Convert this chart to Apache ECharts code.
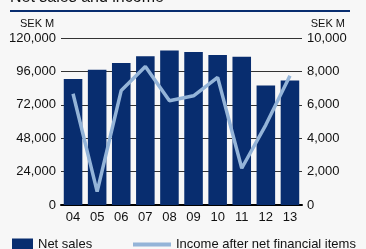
<!DOCTYPE html>
<html>
<head>
<meta charset="utf-8">
<script src="https://cdn.jsdelivr.net/npm/echarts@6/dist/echarts.min.js"></script>
<style>
  html, body { margin: 0; padding: 0; background: #f7f7f7; }
  #chart { width: 366px; height: 249px; }
</style>
</head>
<body>
<div id="chart"></div>
<script>
// years on the x axis
const years = ['04', '05', '06', '07', '08', '09', '10', '11', '12', '13']
// SEK M, left axis
const netSales = [90500, 97200, 102000, 106800, 111100, 109900, 107800, 106600, 85900, 89500]
// SEK M, right axis
const incomeAfterFin = [6660, 800, 6860, 8300, 6240, 6540, 7640, 2200, 4800, 7740]

const darkBlue = '#082d6f'
const lightBlue = '#94b4d8'
const font = 'Liberation Sans, Arial, sans-serif'

var chart = echarts.init(document.getElementById('chart'))

chart.setOption({
  backgroundColor: '#f7f7f7',
  animation: false,
  textStyle: { fontFamily: font },
  graphic: [
    { type: 'text', left: 10, top: -10, style: { text: 'Net sales and income', font: '16px ' + font, fill: '#111' } },
    { type: 'rect', shape: { x: 10, y: 10, width: 340, height: 2 }, style: { fill: darkBlue } },
    { type: 'text', left: 20, top: 18, style: { text: 'SEK M', font: '11px ' + font, fill: '#111' } },
    { type: 'text', right: 21, top: 18, style: { text: 'SEK M', font: '11px ' + font, fill: '#111' } }
  ],
  grid: { left: 61, right: 64, top: 38, bottom: 44 },
  legend: [
    {
      data: ['Net sales'], left: 12, top: 238, padding: 0, itemWidth: 21, itemHeight: 12, itemGap: 4,
      icon: 'rect', textStyle: { fontSize: 13, color: '#111', fontFamily: font }
    },
    {
      data: ['Income after net financial items'], left: 133, top: 238, padding: 0, itemWidth: 38, itemHeight: 4,
      icon: 'rect', textStyle: { fontSize: 13, color: '#111', fontFamily: font }
    }
  ],
  xAxis: {
    type: 'category',
    data: years,
    axisLine: { lineStyle: { color: '#000', width: 2 } },
    axisTick: { show: false },
    axisLabel: { fontSize: 13, color: '#111', margin: 6 }
  },
  yAxis: [
    {
      type: 'value', min: 0, max: 120000, interval: 24000,
      axisLine: { show: false }, axisTick: { show: false },
      axisLabel: { fontSize: 13, color: '#111', margin: 5,
        formatter: v => v.toLocaleString('en-US') },
      splitLine: { lineStyle: { color: '#333', width: 1 } }
    },
    {
      type: 'value', min: 0, max: 10000, interval: 2000,
      axisLine: { show: false }, axisTick: { show: false },
      axisLabel: { fontSize: 13, color: '#111', margin: 5,
        formatter: v => v.toLocaleString('en-US') },
      splitLine: { show: false }
    }
  ],
  series: [
    {
      name: 'Net sales', type: 'bar', data: netSales, barWidth: '77%',
      itemStyle: { color: darkBlue }
    },
    {
      name: 'Income after net financial items', type: 'line', yAxisIndex: 1,
      data: incomeAfterFin, symbol: 'none',
      lineStyle: { color: lightBlue, width: 3.5 }, itemStyle: { color: lightBlue }
    }
  ]
})
</script>
</body>
</html>
